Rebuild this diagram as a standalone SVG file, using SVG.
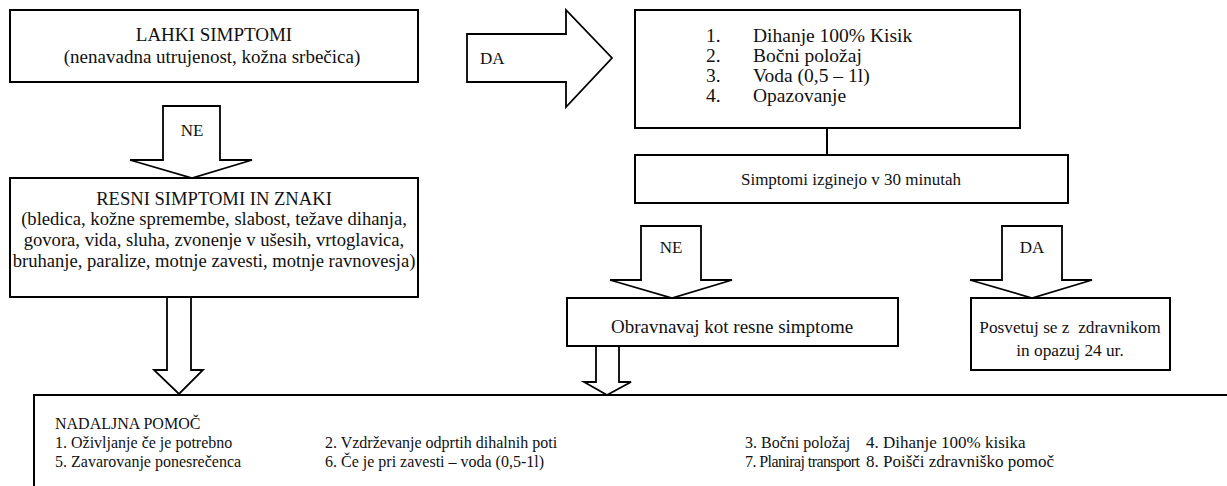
<svg xmlns="http://www.w3.org/2000/svg" width="1227" height="486" viewBox="0 0 1227 486">
<style>
.box{fill:#fff;stroke:#000;stroke-width:2}
.arr{fill:#fff;stroke:#000;stroke-width:1.8;stroke-linejoin:miter}
text{font-family:'Liberation Serif','Times New Roman',serif;fill:#111}
.t{font-size:17px}
.l{font-size:19px}
.r{font-size:18.6px}
.u{font-size:19.5px}
.s{font-size:16px}
.c{text-anchor:middle}
</style>
<rect width="1227" height="486" fill="#fff"/>
<g id="connectors">
<path class="arr" d="M467,34 H566 V10 L612,58 L566,107 V82 H467 Z"/>
<text class="t" x="480" y="64">DA</text>
<path class="arr" d="M163,106 H220 V160 H252 L192,178 L130,160 H163 Z"/>
<text class="t c" x="192" y="136">NE</text>
<path class="arr" d="M167,297 H191 V370 H203 L179,394 L154,370 H167 Z"/>
<line x1="827" y1="128" x2="827" y2="155" stroke="#000" stroke-width="2"/>
<path class="arr" d="M641,226 H701 V280 H732 L672,298 L610,280 H641 Z"/>
<text class="t c" x="671" y="253">NE</text>
<path class="arr" d="M1002,226 H1062 V280 H1092 L1032,298 L970,280 H1002 Z"/>
<text class="t c" x="1032" y="253">DA</text>
<path class="arr" d="M596,346 H619 V382 H631 L607,395 L584,382 H596 Z"/>
</g>
<g id="lahki">
<rect class="box" x="10" y="10" width="408" height="72"/>
<text class="l c" x="214" y="41">LAHKI SIMPTOMI</text>
<text class="l c" x="212" y="63">(nenavadna utrujenost, kožna srbečica)</text>
</g>
<g id="ukrepi">
<rect class="box" x="635" y="10" width="385" height="118"/>
<text class="u" x="706" y="42">1.</text><text class="u" x="753" y="42">Dihanje 100% Kisik</text>
<text class="u" x="706" y="62">2.</text><text class="u" x="753" y="62">Bočni položaj</text>
<text class="u" x="706" y="82">3.</text><text class="u" x="753" y="82">Voda (0,5 – 1l)</text>
<text class="u" x="706" y="102">4.</text><text class="u" x="753" y="102">Opazovanje</text>
</g>
<g id="izginejo">
<rect class="box" x="635" y="155" width="433" height="48"/>
<text class="t c" x="851" y="185">Simptomi izginejo v 30 minutah</text>
</g>
<g id="resni">
<rect class="box" x="10" y="178" width="408" height="119"/>
<text class="r c" x="214" y="205">RESNI SIMPTOMI IN ZNAKI</text>
<text class="r c" x="214" y="225">(bledica, kožne spremembe, slabost, težave dihanja,</text>
<text class="r c" x="214" y="246">govora, vida, sluha, zvonenje v ušesih, vrtoglavica,</text>
<text class="r c" x="214" y="267">bruhanje, paralize, motnje zavesti, motnje ravnovesja)</text>
</g>
<g id="obravnavaj">
<rect class="box" x="567" y="298" width="331" height="48"/>
<text class="l c" x="732" y="333">Obravnavaj kot resne simptome</text>
</g>
<g id="posvetuj">
<rect class="box" x="971" y="298" width="199" height="72"/>
<text class="c" font-size="17.3" x="1070" y="333" xml:space="preserve">Posvetuj se z  zdravnikom</text>
<text class="c" font-size="17.3" x="1070" y="356">in opazuj 24 ur.</text>
</g>
<g id="nadaljna">
<rect class="box" x="34" y="395" width="1210" height="110"/>
<text class="s" x="55" y="429">NADALJNA POMOČ</text>
<text class="s" x="55" y="448">1. Oživljanje če je potrebno</text>
<text class="s" x="325" y="448">2. Vzdrževanje odprtih dihalnih poti</text>
<text class="s" x="745" y="448">3. Bočni položaj</text>
<text class="t" x="866" y="448">4. Dihanje 100% kisika</text>
<text class="s" x="55" y="467">5. Zavarovanje ponesrečenca</text>
<text class="s" x="325" y="467">6. Če je pri zavesti – voda (0,5-1l)</text>
<text class="s" x="745" y="467" textLength="115">7. Planiraj transport</text>
<text class="t" x="866" y="467">8. Poišči zdravniško pomoč</text>
</g>
</svg>
